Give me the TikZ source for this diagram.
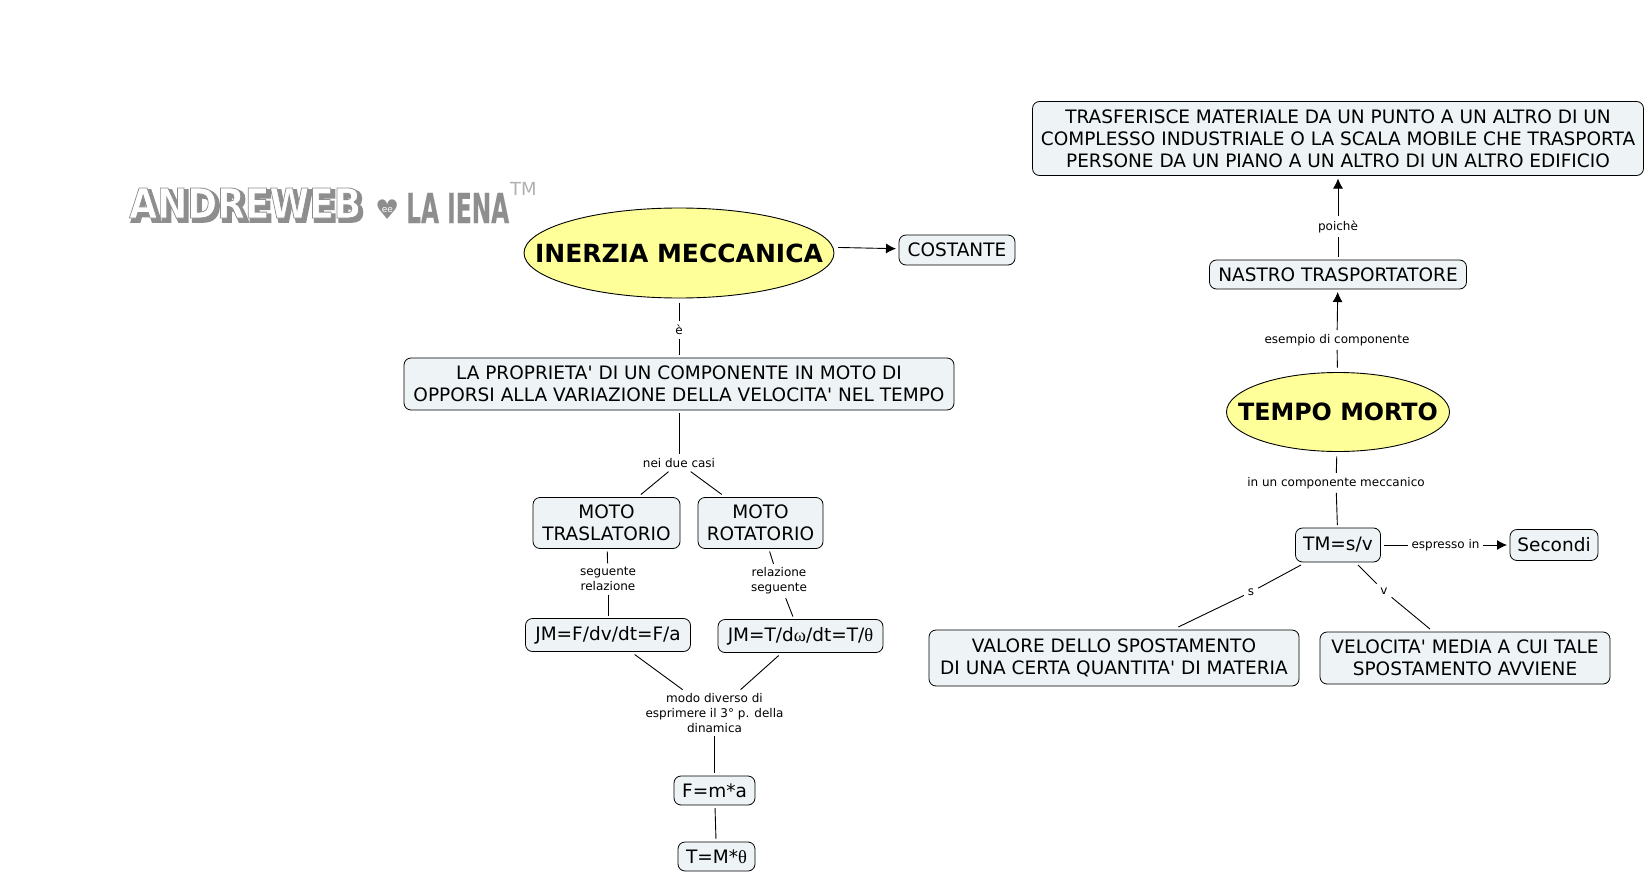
\documentclass[tikz,border=0pt]{standalone}
\usepackage{fontspec}
\setmainfont{DejaVu Sans}[Ligatures=TeXOff]
\newfontfamily\grecofont{Liberation Serif}
\usetikzlibrary{positioning,arrows.meta,shapes.geometric}
\definecolor{fondobox}{HTML}{EEF4F6}
\definecolor{fondotitolo}{HTML}{FFFF99}
\definecolor{grigiologo}{HTML}{8E8E8E}
\tikzset{
  every edge/.style={draw, line width=0.9pt},
  >={Latex[length=10pt,width=10pt]},
  concetto/.style={draw, line width=0.8pt, rounded corners=7pt, fill=fondobox, align=center,
    inner sep=0pt, outer sep=3pt, font=\fontsize{18.5}{22}\selectfont},
  titolo/.style={draw, line width=0.9pt, ellipse, fill=fondotitolo, inner sep=0pt, outer sep=5pt},
  frase/.style={align=center, inner sep=1pt, outer sep=3pt, font=\fontsize{12}{14.7}\selectfont},
  logo/.style={inner sep=0pt, anchor=west},
}

% testo del logo: riempimento, contorno, spessore
\newcommand{\blocco}[5]{\resizebox{#1pt}{#2pt}{\special{pdf:code 2 Tr #5 w 0.557 G #4 g}\bfseries #3\special{pdf:code 0 Tr}}}

\begin{document}
\begin{tikzpicture}[x=1pt, y=1pt, on grid]
  \useasboundingbox (0,0) rectangle (1647,-875);

  % logo
  \node[logo] (ombra) at (132,-206) {\blocco{232}{30}{ANDREWEB}{0.557}{0.9}};
  \node[logo] (andreweb) at (129,-203) {\blocco{232}{30}{ANDREWEB}{1}{0.2}};
  \node[logo, text=grigiologo, font=\fontsize{27}{27}\selectfont] (cuore) at (375,-210) {♥};
  \node[text=white, inner sep=0pt, font=\fontsize{9}{9}\selectfont] at (cuore.center) {ee};
  \node[logo, text=grigiologo] (iena) at (406,-208) {\blocco{103}{30}{LA IENA}{0.557}{0.05}};
  \node[logo, text=grigiologo!70, font=\fontsize{18}{18}\selectfont] (marchio) at (510,-189) {TM};

  % parte sinistra
  \node[titolo, minimum width=310pt, minimum height=90pt] (inerzia) at (679,-253)
    {\makebox[0pt]{\fontsize{25}{30}\selectfont\bfseries INERZIA MECCANICA}};
  \node[concetto, minimum width=116pt, minimum height=30pt, above right=3pt and 278pt of inerzia] (costante) {COSTANTE};
  \node[frase, below=77pt of inerzia] (e) {è};
  \node[concetto, minimum width=550pt, minimum height=52pt, below=131pt of inerzia] (proprieta)
    {LA PROPRIETA' DI UN COMPONENTE IN MOTO DI\\OPPORSI ALLA VARIAZIONE DELLA VELOCITA' NEL TEMPO};
  \node[frase, below=79pt of proprieta] (casi) {nei due casi};
  \node[concetto, minimum width=147pt, minimum height=51pt, below left=60pt and 72.5pt of casi] (traslatorio) {MOTO\\TRASLATORIO};
  \node[concetto, minimum width=125pt, minimum height=51pt, below right=60pt and 81.5pt of casi] (rotatorio) {MOTO\\ROTATORIO};
  \node[frase, below right=56pt and 1.5pt of traslatorio] (seguente) {seguente\\relazione};
  \node[frase, below right=58pt and 18.5pt of rotatorio] (relazione) {relazione\\seguente};
  \node[concetto, minimum width=165pt, minimum height=33pt, below=56pt of seguente] (jmf) {JM=F/dv/dt=F/a};
  \node[concetto, minimum width=165pt, minimum height=33pt, below right=55pt and 21.5pt of relazione] (jmt)
    {JM=T/d{\grecofont ω}/dt=T/{\grecofont θ}};
  \node[frase, below right=78pt and 106.5pt of jmf] (modo) {modo diverso di\\esprimere il 3° p. della\\dinamica};
  \node[concetto, minimum width=81pt, minimum height=29pt, below=77.5pt of modo] (forza) {F=m*a};
  \node[concetto, minimum width=77pt, minimum height=29pt, below right=66pt and 2pt of forza] (momento) {T=M*{\grecofont θ}};

  \path[-]
    (inerzia) edge (e)
    (e) edge (proprieta)
    (proprieta) edge (casi)
    (casi) edge (traslatorio)
    (casi) edge (rotatorio)
    (traslatorio) edge (seguente)
    (seguente) edge (jmf)
    (rotatorio) edge (relazione)
    (relazione) edge (jmt)
    (jmf) edge (modo)
    (jmt) edge (modo)
    (modo) edge (forza)
    (forza) edge (momento);
  \path[->] (inerzia.2) edge (costante);

  % parte destra
  \node[titolo, minimum width=223pt, minimum height=79pt] (tempo) at (1338,-412)
    {\makebox[0pt]{\fontsize{23.8}{30}\selectfont\bfseries TEMPO MORTO}};
  \node[frase, above left=72pt and 1pt of tempo] (esempio) {esempio di componente};
  \node[concetto, minimum width=257pt, minimum height=29pt, above right=65.5pt and 1pt of esempio] (nastro) {NASTRO TRASPORTATORE};
  \node[frase, above=48pt of nastro] (poiche) {poichè};
  \node[concetto, minimum width=611pt, minimum height=74pt, above=88pt of poiche] (trasferisce)
    {TRASFERISCE MATERIALE DA UN PUNTO A UN ALTRO DI UN\\COMPLESSO INDUSTRIALE O LA SCALA MOBILE CHE TRASPORTA\\PERSONE DA UN PIANO A UN ALTRO DI UN ALTRO EDIFICIO};
  \node[frase, below left=71pt and 2pt of tempo] (meccanico) {in un componente meccanico};
  \node[concetto, minimum width=85pt, minimum height=34pt, below right=62pt and 2pt of meccanico] (tm) {TM=s/v};
  \node[frase, right=107.5pt of tm] (espresso) {espresso in};
  \node[concetto, minimum width=88pt, minimum height=31pt, right=108.5pt of espresso] (secondi) {Secondi};
  \node[frase, below left=47pt and 87pt of tm] (s) {s};
  \node[frase, below right=46pt and 46pt of tm] (v) {v};
  \node[concetto, minimum width=370pt, minimum height=56pt, below left=66pt and 137pt of s] (valore)
    {VALORE DELLO SPOSTAMENTO\\DI UNA CERTA QUANTITA' DI MATERIA};
  \node[concetto, minimum width=290pt, minimum height=52pt, below right=67pt and 81pt of v] (velocita)
    {VELOCITA' MEDIA A CUI TALE\\SPOSTAMENTO AVVIENE};

  \path[-]
    (tempo) edge (esempio)
    (nastro) edge (poiche)
    (tempo) edge (meccanico)
    (meccanico) edge (tm)
    (tm) edge (espresso)
    (tm) edge (s)
    (s) edge (valore)
    (tm) edge (v)
    (v) edge (velocita);
  \path[->]
    (esempio) edge (nastro)
    (poiche) edge (trasferisce)
    (espresso) edge (secondi);
\end{tikzpicture}
\end{document}
